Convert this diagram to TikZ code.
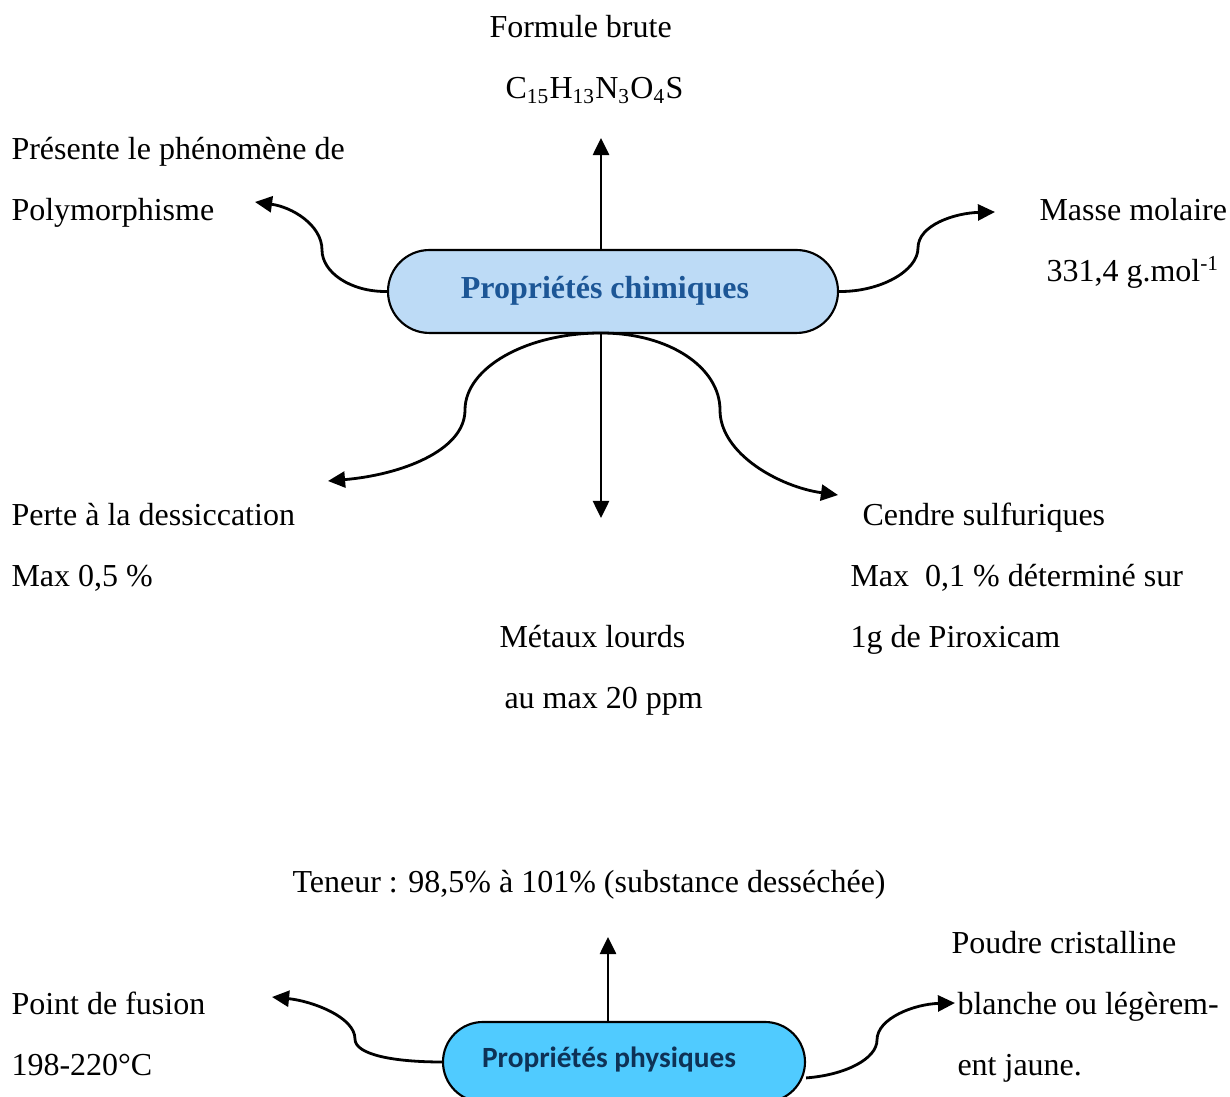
\documentclass[tikz,border=0pt]{standalone}
\usepackage{fontspec}
\setmainfont{Liberation Serif}
\newfontfamily\calibfont{Carlito}
\usetikzlibrary{arrows.meta}
\definecolor{chimfill}{RGB}{189,219,246}
\definecolor{chimtext}{RGB}{28,86,150}
\definecolor{physfill}{RGB}{80,203,255}
\definecolor{phystext}{RGB}{14,50,86}
\tikzset{
	txt/.style={anchor=base west,inner sep=0pt,font=\fontsize{12}{14}\selectfont},
	arr/.style={-{Triangle[length=6.4pt,width=6pt]},line width=1.05pt},
	chimbox/.style={draw,line width=0.8pt,fill=chimfill,rounded corners=15.5pt,
		minimum width=168.75pt,minimum height=31.1pt,inner sep=0pt},
	physbox/.style={draw,line width=0.8pt,fill=physfill,rounded corners=15pt,
		minimum width=135.75pt,minimum height=30pt,inner sep=0pt}
}
\begin{document}
\begin{tikzpicture}[x=0.375pt,y=0.375pt]
	\useasboundingbox (0,0) rectangle (1230,1097);
	% chemical properties
	\node[chimbox](chim) at (613,805.5) {};
	\node[inner sep=0pt,font=\fontsize{12}{14}\selectfont\bfseries,text=chimtext]
		(chimtxt) at (605,806) {Propriétés chimiques};
	\node[txt](formule) at (489,1059) {Formule brute};
	\node[txt](brute) at (505,998)
		{C\textsubscript{15}H\textsubscript{13}N\textsubscript{3}O\textsubscript{4}S};
	\node[txt](poly1) at (11,937) {Présente le phénomène de};
	\node[txt](poly2) at (11,876) {Polymorphisme};
	\node[txt](masse1) at (1039,876) {Masse molaire};
	\node[txt](masse2) at (1046,815) {331,4 g.mol\textsuperscript{-1}};
	\node[txt](perte1) at (11,571) {Perte à la dessiccation};
	\node[txt](perte2) at (11,510) {Max 0,5 \%};
	\node[txt](cendre1) at (862,571) {Cendre sulfuriques};
	\node[txt](cendre2) at (850,510) {Max\ \ 0,1 \% déterminé sur};
	\node[txt](cendre3) at (850,449) {1g de Piroxicam};
	\node[txt](metaux1) at (499,449) {Métaux lourds};
	\node[txt](metaux2) at (504,388) {au max 20 ppm};
	\coordinate (upchim) at (601,959);
	\coordinate (downchim) at (601,579);
	\coordinate (topchim) at (601,764);
	\draw[arr] (chim.north -| upchim) -- (upchim);
	\draw[arr] (topchim) -- (downchim);
	\draw[arr] (chim.west) .. controls (350,805) and (322,825) .. (322,847)
		.. controls (322,872) and (292,890) .. (255,895);
	\draw[arr] (chim.east) .. controls (880,805) and (918,826) .. (918,849)
		.. controls (918,872) and (955,884) .. (995,885);
	\draw[arr] (topchim) .. controls (526,764) and (465,729) .. (465,687)
		.. controls (465,646) and (400,622) .. (328,616);
	\draw[arr] (topchim) .. controls (670,764) and (720,729) .. (720,687)
		.. controls (720,643) and (780,610) .. (838,602);
	% physical properties
	\node[physbox](phys) at (624,35) {};
	\node[inner sep=0pt,font=\calibfont\fontsize{11}{13}\selectfont\bfseries,text=phystext]
		(phystxt) at (609,37) {Propriétés physiques};
	\node[txt](teneur) at (292,204) {Teneur : 98,5\% à 101\% (substance desséchée)};
	\node[txt](poudre1) at (951,143) {Poudre cristalline};
	\node[txt](poudre2) at (957,82) {blanche ou légèrem-};
	\node[txt](poudre3) at (957,21) {ent jaune.};
	\node[txt](fusion1) at (11,82) {Point de fusion};
	\node[txt](fusion2) at (11,21) {198-220°C};
	\coordinate (upphys) at (608,160);
	\draw[arr] (phys.north -| upphys) -- (upphys);
	\draw[arr] (phys.west) .. controls (395,35) and (355,42) .. (355,58)
		.. controls (355,80) and (312,96) .. (272,100);
	\draw[arr] (phys.-5) .. controls (845,22) and (877,38) .. (877,57)
		.. controls (877,79) and (915,93) .. (955,94);
\end{tikzpicture}
\end{document}
